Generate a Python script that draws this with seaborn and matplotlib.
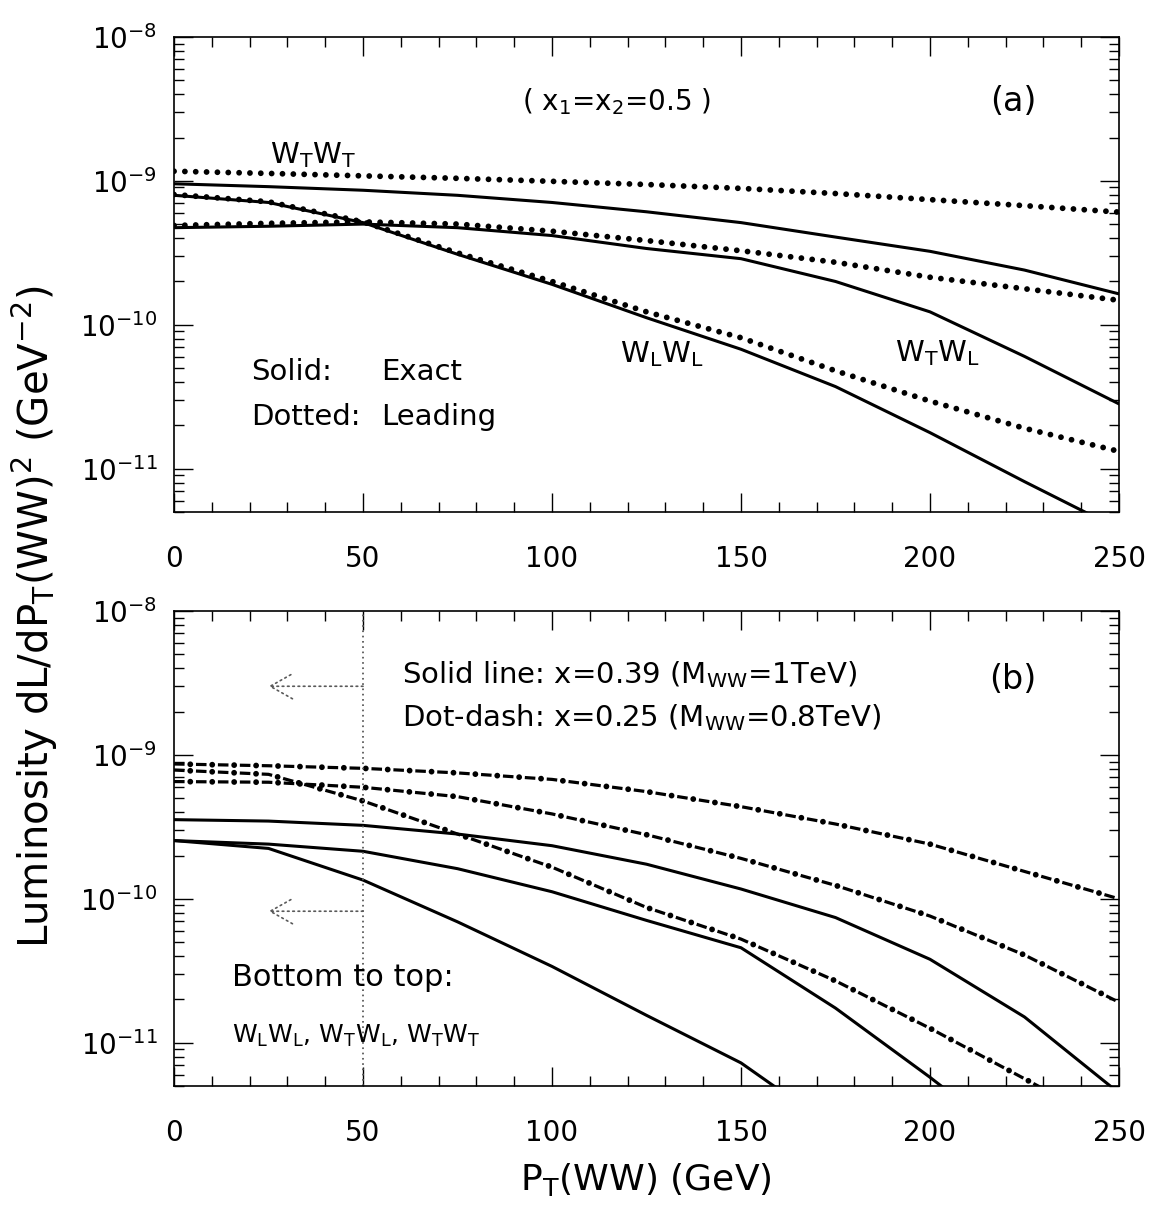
import numpy as np
import pandas as pd
import matplotlib
matplotlib.use('Agg')
import matplotlib.pyplot as plt
import seaborn as sns
from matplotlib.ticker import MultipleLocator, FixedLocator, NullFormatter

# P_T(WW) grid (GeV)
pt = [0, 25, 50, 75, 100, 125, 150, 175, 200, 225, 250]

# panel (a): x1 = x2 = 0.5, solid = exact, dotted = leading
a_wtwt_exact = [9.55e-10, 9.12e-10, 8.61e-10, 7.94e-10, 7.08e-10, 6.10e-10,
                5.13e-10, 4.07e-10, 3.24e-10, 2.40e-10, 1.64e-10]
a_wtwt_lead = [1.167e-9, 1.127e-9, 1.084e-9, 1.042e-9, 9.93e-10, 9.44e-10,
               8.87e-10, 8.17e-10, 7.41e-10, 6.73e-10, 6.07e-10]
a_wtwl_exact = [4.73e-10, 4.84e-10, 5.01e-10, 4.73e-10, 4.17e-10, 3.39e-10,
                2.88e-10, 2.00e-10, 1.23e-10, 6.03e-11, 2.82e-11]
a_wtwl_lead = [4.90e-10, 5.07e-10, 5.19e-10, 5.01e-10, 4.47e-10, 3.85e-10,
               3.27e-10, 2.72e-10, 2.14e-10, 1.78e-10, 1.48e-10]
a_wlwl_exact = [7.94e-10, 7.08e-10, 5.13e-10, 3.09e-10, 1.91e-10, 1.12e-10,
                6.76e-11, 3.72e-11, 1.78e-11, 8.13e-12, 3.80e-12]
a_wlwl_lead = [8.04e-10, 7.16e-10, 5.19e-10, 3.16e-10, 2.00e-10, 1.23e-10,
               8.13e-11, 4.79e-11, 2.95e-11, 1.91e-11, 1.32e-11]

# panel (b): solid = x=0.39 (1 TeV), dot-dash = x=0.25 (0.8 TeV)
b_wtwt_039 = [3.55e-10, 3.47e-10, 3.24e-10, 2.82e-10, 2.34e-10, 1.74e-10,
              1.17e-10, 7.41e-11, 3.80e-11, 1.51e-11, 4.47e-12]
b_wtwl_039 = [2.54e-10, 2.40e-10, 2.14e-10, 1.62e-10, 1.12e-10, 7.08e-11,
              4.57e-11, 1.74e-11, 5.75e-12, 1.78e-12, 5.0e-13]
b_wlwl_039 = [2.54e-10, 2.24e-10, 1.35e-10, 6.92e-11, 3.39e-11, 1.55e-11,
              7.24e-12, 2.5e-12, 8.0e-13, 2.5e-13, 8.0e-14]
b_wtwt_025 = [8.65e-10, 8.41e-10, 8.07e-10, 7.50e-10, 6.76e-10, 5.56e-10,
              4.37e-10, 3.31e-10, 2.40e-10, 1.55e-10, 1.0e-10]
b_wtwl_025 = [6.53e-10, 6.46e-10, 5.96e-10, 5.13e-10, 3.89e-10, 2.79e-10,
              1.91e-10, 1.24e-10, 7.59e-11, 4.07e-11, 1.91e-11]
b_wlwl_025 = [7.85e-10, 7.33e-10, 4.79e-10, 2.82e-10, 1.66e-10, 8.71e-11,
              5.25e-11, 2.69e-11, 1.26e-11, 5.62e-12, 2.51e-12]

decades = [1e-11, 1e-10, 1e-9, 1e-8]
cut_pt = 50            # vertical dotted cut in panel (b)
arrow_to = 25
arrow_levels = [3.0e-9, 8.2e-11]

sns.set_style('ticks')
plt.rcParams['font.family'] = ['DejaVu Sans']
plt.rcParams['mathtext.default'] = 'regular'
plt.rcParams['lines.scale_dashes'] = False
plt.rcParams['axes.linewidth'] = 1.2
plt.rcParams['text.color'] = 'black'
plt.rcParams['axes.edgecolor'] = 'black'
plt.rcParams['xtick.color'] = 'black'
plt.rcParams['ytick.color'] = 'black'

fig = plt.figure(figsize=(11.51, 12.09), dpi=100)
ax_a = fig.add_axes([0.1512, 0.5765, 0.821, 0.3929])
ax_b = fig.add_axes([0.1512, 0.1017, 0.821, 0.3929])


def solid(ax, y):
    sns.lineplot(x=pt, y=y, ax=ax, color='black', linewidth=2.2)


def dotted(ax, y):
    sns.lineplot(x=pt, y=y, ax=ax, color='black', linewidth=4.2,
                 linestyle=(0, (0.01, 7.8)), dash_capstyle='round')


def dotdash(ax, y):
    sns.lineplot(x=pt, y=y, ax=ax, color='black', linewidth=2.3,
                 linestyle=(0, (7.6, 8.2)), dash_capstyle='butt')
    sns.lineplot(x=pt, y=y, ax=ax, color='black', linewidth=4.2,
                 linestyle=(4.1, (0.01, 15.79)), dash_capstyle='round')


minor_ticks = [m * d for d in [1e-12] + decades[:-1] for m in range(2, 10)]

for ax in (ax_a, ax_b):
    ax.set_yscale('log')
    ax.set_xlim(0, 250)
    ax.set_ylim(5e-12, 1e-8)
    ax.xaxis.set_major_locator(MultipleLocator(50))
    ax.xaxis.set_minor_locator(MultipleLocator(10))
    ax.yaxis.set_major_locator(FixedLocator(decades))
    ax.yaxis.set_minor_locator(FixedLocator([t for t in minor_ticks if t >= 5e-12]))
    ax.yaxis.set_minor_formatter(NullFormatter())
    ax.tick_params(which='both', direction='in', top=True, right=True,
                   width=1.0, colors='black')
    ax.tick_params(which='major', length=14)
    ax.tick_params(which='minor', length=7)
    ax.tick_params(axis='x', which='major', pad=24, labelsize=20)
    ax.tick_params(axis='y', which='major', pad=12, labelsize=20)

# panel (a)
dotted(ax_a, a_wtwt_lead)
solid(ax_a, a_wtwt_exact)
dotted(ax_a, a_wtwl_lead)
solid(ax_a, a_wtwl_exact)
dotted(ax_a, a_wlwl_lead)
solid(ax_a, a_wlwl_exact)

ta = ax_a.transAxes
ax_a.text(0.102, 0.735, r'$W_TW_T$', transform=ta, fontsize=21, va='baseline')
ax_a.text(0.468, 0.864, r'( x$_1$=x$_2$=0.5 )', transform=ta, fontsize=20,
          ha='center', va='center')
ax_a.text(0.888, 0.864, '(a)', transform=ta, fontsize=24, ha='center', va='center')
ax_a.text(0.082, 0.295, 'Solid:', transform=ta, fontsize=21, va='center')
ax_a.text(0.219, 0.295, 'Exact', transform=ta, fontsize=21, va='center')
ax_a.text(0.082, 0.200, 'Dotted:', transform=ta, fontsize=21, va='center')
ax_a.text(0.219, 0.200, 'Leading', transform=ta, fontsize=21, va='center')
ax_a.text(0.472, 0.316, r'$W_LW_L$', transform=ta, fontsize=21, va='baseline')
ax_a.text(0.763, 0.318, r'$W_TW_L$', transform=ta, fontsize=21, va='baseline')

# panel (b)
solid(ax_b, b_wtwt_039)
solid(ax_b, b_wtwl_039)
solid(ax_b, b_wlwl_039)
dotdash(ax_b, b_wtwt_025)
dotdash(ax_b, b_wtwl_025)
dotdash(ax_b, b_wlwl_025)

ax_b.axvline(cut_pt, color='0.35', linewidth=1.3, linestyle=(0, (1.2, 2.6)))
for lev in arrow_levels:
    ax_b.annotate('', xy=(arrow_to, lev), xytext=(cut_pt, lev),
                  arrowprops=dict(arrowstyle='->,head_length=0.8,head_width=0.45',
                                  color='0.35', linewidth=1.2,
                                  linestyle=(0, (1.2, 2.6)), mutation_scale=20,
                                  shrinkA=0, shrinkB=0))

tb = ax_b.transAxes
ax_b.text(0.241, 0.867, r'Solid line: x=0.39 (M$_{WW}$=1TeV)', transform=tb,
          fontsize=21, va='center')
ax_b.text(0.241, 0.775, r'Dot-dash: x=0.25 (M$_{WW}$=0.8TeV)', transform=tb,
          fontsize=21, va='center')
ax_b.text(0.888, 0.855, '(b)', transform=tb, fontsize=24, ha='center', va='center')
ax_b.text(0.0614, 0.2295, 'Bottom to top:', transform=tb, fontsize=22, va='center')
ax_b.text(0.0614, 0.090, r'$W_LW_L$, $W_TW_L$, $W_TW_T$', transform=tb,
          fontsize=18, va='baseline')

for ax in (ax_a, ax_b):
    ax.set_xlabel('')
    ax.set_ylabel('')

fig.text(0.561, 0.024, r'P$_T$(WW) (GeV)', fontsize=26, ha='center', va='center')
fig.text(0.03, 0.49, r'Luminosity dL/dP$_T$(WW)$^2$ (GeV$^{-2}$)', fontsize=29,
         rotation=90, ha='center', va='center')

fig.savefig('out.png', dpi=100)
